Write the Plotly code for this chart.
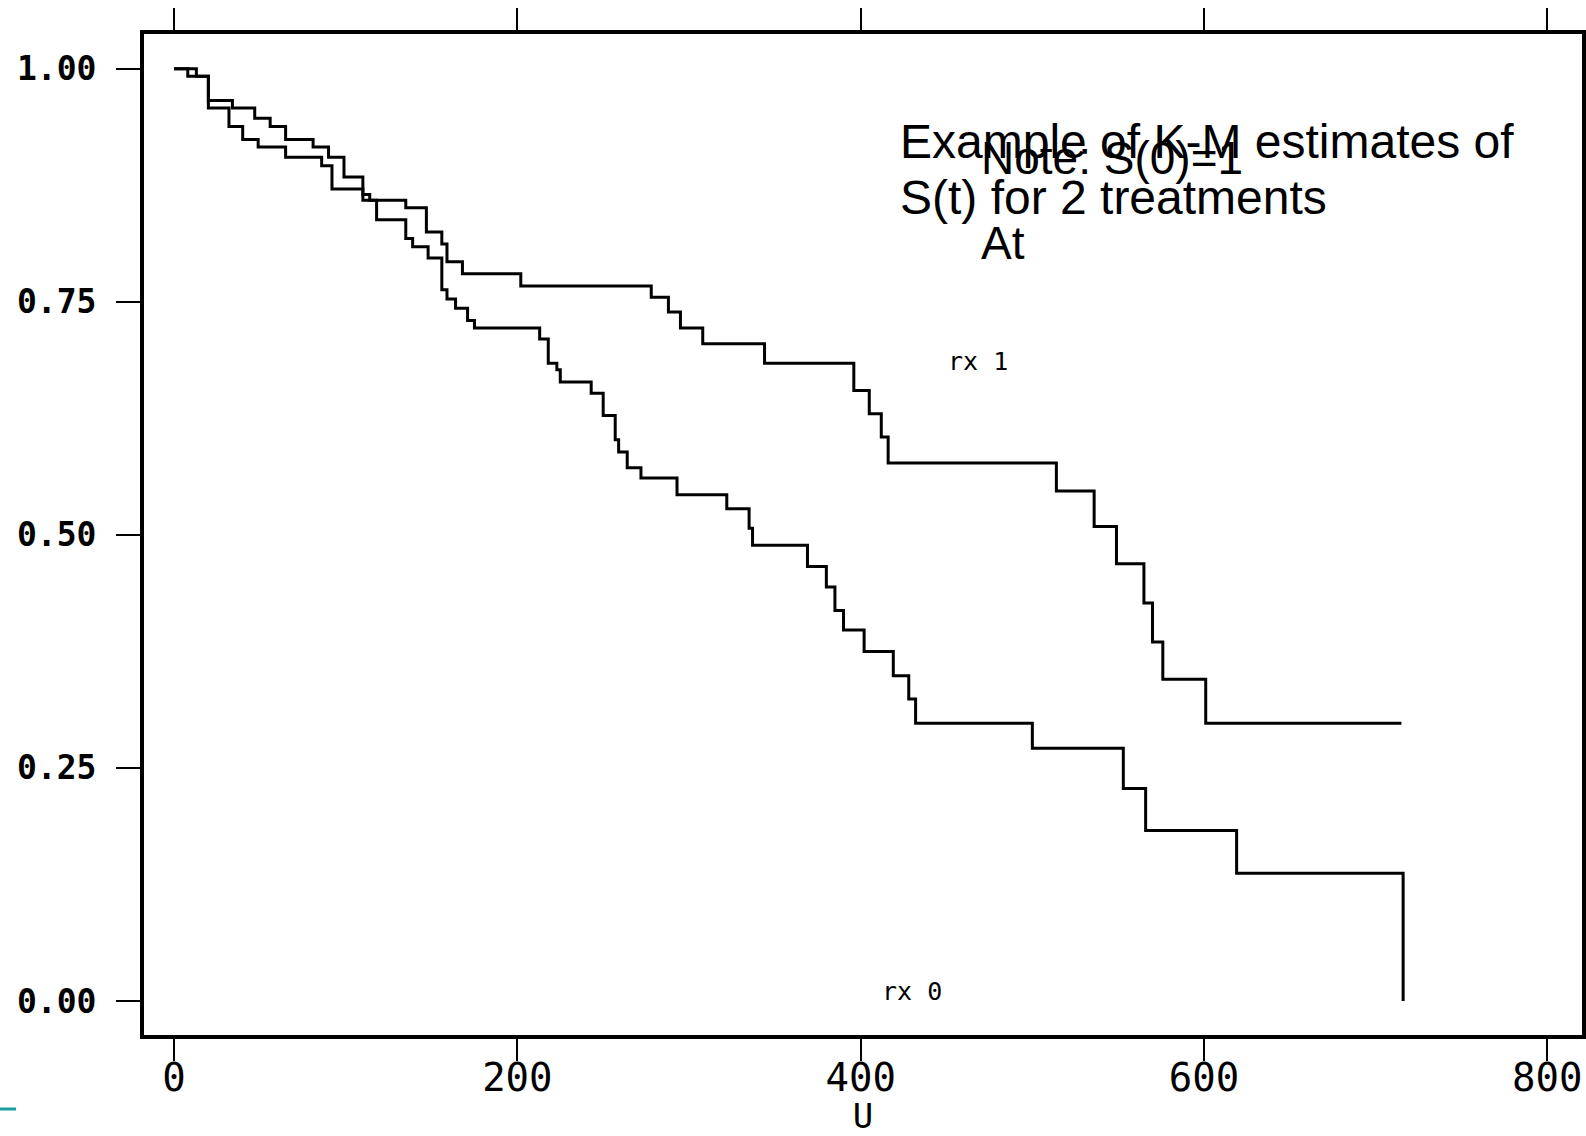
import plotly.graph_objects as go

# ---- data ----
rx1_time = [0, 13, 20, 34, 47, 56, 65, 81, 90, 99, 110, 135, 147, 156, 159, 168, 202,
            278, 288, 295, 308, 344, 396, 405, 412, 416, 514, 536, 549, 565, 570, 576, 601, 715]
rx1_surv = [1.000, 0.992, 0.966, 0.958, 0.947, 0.938, 0.924, 0.916, 0.905, 0.884, 0.859,
            0.851, 0.825, 0.812, 0.793, 0.780, 0.767, 0.755, 0.739, 0.722, 0.705, 0.684,
            0.655, 0.630, 0.605, 0.577, 0.547, 0.509, 0.469, 0.427, 0.385, 0.345, 0.298, 0.298]

rx0_time = [0, 8, 20, 32, 40, 49, 65, 86, 92, 110, 114, 118, 135, 139, 148, 156, 159, 164,
            171, 175, 213, 218, 223, 225, 243, 250, 257, 259, 264, 272, 293, 322, 335, 337,
            369, 380, 385, 390, 402, 419, 428, 432, 500, 553, 566, 619, 716]
rx0_surv = [1.000, 0.992, 0.958, 0.938, 0.924, 0.916, 0.905, 0.896, 0.871, 0.865, 0.859,
            0.838, 0.818, 0.809, 0.797, 0.763, 0.753, 0.743, 0.730, 0.722, 0.710, 0.684,
            0.677, 0.664, 0.652, 0.628, 0.602, 0.589, 0.572, 0.561, 0.543, 0.528, 0.507,
            0.489, 0.466, 0.444, 0.419, 0.398, 0.375, 0.349, 0.324, 0.298, 0.271, 0.228,
            0.183, 0.137, 0.0]

x_ticks = [0, 200, 400, 600, 800]
x_tick_labels = ["0", "200", "400", "600", "800"]
y_ticks = [0.0, 0.25, 0.50, 0.75, 1.00]
y_tick_labels = ["0.00", "0.25", "0.50", "0.75", "1.00"]

# ---- layout geometry (pixels) ----
W, H = 1586, 1136
L, R, T, B = 144, 1582, 34, 1035


def px(xp, yp):
    return (xp - L) / (R - L), (B - yp) / (B - T)


fig = go.Figure()
for t, s in [(rx1_time, rx1_surv), (rx0_time, rx0_surv)]:
    fig.add_trace(go.Scatter(x=t, y=s, mode="lines", line_shape="hv",
                             line=dict(color="black", width=3), showlegend=False,
                             hoverinfo="skip"))

mono = "DejaVu Sans Mono"
arial = "Liberation Sans, Arial"

fig.update_layout(
    width=W, height=H,
    margin=dict(l=L, r=W - R, t=T, b=H - B, pad=0, autoexpand=False),
    paper_bgcolor="white", plot_bgcolor="white",
    xaxis=dict(range=[-17.5, 820.2], tickvals=x_ticks, ticktext=x_tick_labels,
               automargin=False,
               showgrid=False, zeroline=False, showline=True, linewidth=4,
               linecolor="black", mirror="allticks", ticks="outside", ticklen=22,
               tickwidth=2, tickcolor="black", ticklabelstandoff=-17,
               tickfont=dict(family=mono, size=39, color="black"),
               title=dict(text="U", font=dict(family=mono, size=34, color="black"),
                          standoff=0)),
    yaxis=dict(range=[-0.0365, 1.0373], tickvals=y_ticks, ticktext=y_tick_labels,
               automargin=False,
               showgrid=False, zeroline=False, showline=True, linewidth=4,
               linecolor="black", mirror="allticks", ticks="outside", ticklen=24,
               tickwidth=2, tickcolor="black", ticklabelstandoff=13,
               tickfont=dict(family=mono + ", monospace", size=33, color="black",
                             weight="bold")),
)

texts = [
    ("Example of K-M estimates of", 898, 141, 48, arial),
    ("S(t) for 2 treatments", 898, 197, 48, arial),
    ("Note: S(0)=1", 979, 158, 46, arial),
    ("At", 979, 243, 46, arial),
    ("rx 1", 946, 361, 25, mono),
    ("rx 0", 880, 991, 25, mono),
]
for txt, xp, yp, sz, fam in texts:
    xx, yy = px(xp, yp)
    fig.add_annotation(text=txt, x=xx, y=yy, xref="paper", yref="paper",
                       xanchor="left", yanchor="middle", showarrow=False,
                       font=dict(family=fam, size=sz, color="black"))

x0, y0 = px(0, 1109)
x1, _ = px(16, 1109)
fig.add_shape(type="line", xref="paper", yref="paper", x0=x0, x1=x1, y0=y0, y1=y0,
              line=dict(color="#1b9e9e", width=3))

fig.write_html("out.html",
               config={"displayModeBar": False},
               post_script="document.body.style.margin='0';document.body.style.overflow='hidden';")
